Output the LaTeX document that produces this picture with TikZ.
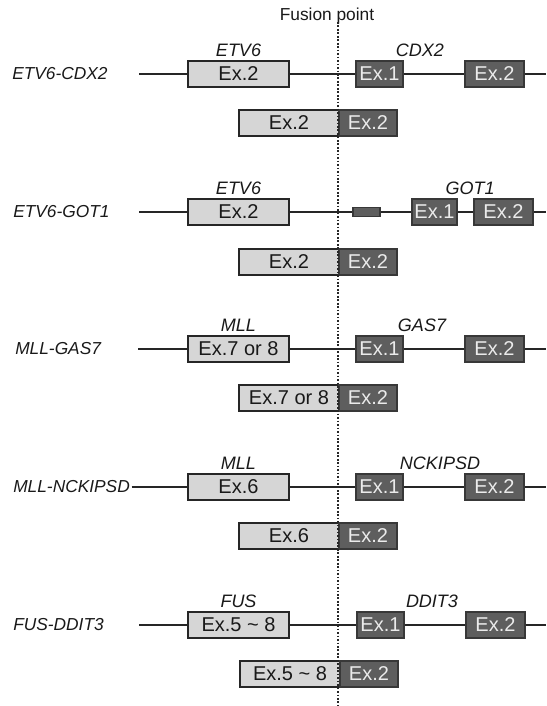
\documentclass[tikz,border=0pt]{standalone}
\usepackage{fontspec}
\setmainfont{Liberation Sans}
\begin{document}
\begin{tikzpicture}[x=0.75pt,y=-0.75pt,
  lbox/.style={draw=black!85, line width=1pt, fill=black!16, text=black!90,
    font=\fontsize{15}{15}\selectfont, inner sep=0pt, minimum height=19.5pt},
  dbox/.style={draw=black!78, line width=1pt, fill=black!63, text=black!8,
    font=\fontsize{15}{15}\selectfont, inner sep=0pt, minimum height=19.5pt},
  genelabel/.style={font=\itshape\fontsize{13.5}{13.5}\selectfont, text=black!90},
  rowlabel/.style={font=\itshape\fontsize{13}{13}\selectfont, text=black!90, anchor=west, inner sep=0pt},
  gline/.style={line width=1.1pt, black!85},
  fusionline/.style={line width=1.5pt, black!85, dash pattern=on 1.3pt off 1.3pt}]
\useasboundingbox (0,0) rectangle (546,706);

\node[font=\fontsize{13}{13}\selectfont, text=black!90] (fp) at (327,16) {Fusion point};

% ---------- Row 1: ETV6-CDX2 ----------
\node[rowlabel] (r1) at (12,74) {ETV6-CDX2};
\coordinate (s1) at (139,74);
\coordinate (e1) at (546,74);
\node[lbox, minimum width=75.75pt] (a1) at (238.5,74) {Ex.2};
\node[dbox, minimum width=35.25pt] (b1) at (379.5,74) {Ex.1};
\node[dbox, minimum width=44.25pt] (c1) at (494.5,74) {Ex.2};
\node[genelabel] (g1a) at (238.5,50) {ETV6};
\node[genelabel] (g1b) at (420,50) {CDX2};
\draw[gline] (s1) -- (a1.west);
\draw[gline] (a1.east) -- (b1.west);
\draw[gline] (b1.east) -- (c1.west);
\draw[gline] (c1.east) -- (e1);
\node[lbox, minimum width=75pt] (f1a) at (289,123) {Ex.2};
\node[dbox, minimum width=43.5pt] (f1b) at (368,123) {Ex.2};

% ---------- Row 2: ETV6-GOT1 ----------
\node[rowlabel] (r2) at (13,212) {ETV6-GOT1};
\coordinate (s2) at (139,212);
\coordinate (e2) at (546,212);
\node[lbox, minimum width=75.75pt] (a2) at (238.5,212) {Ex.2};
\node[dbox, minimum width=20.25pt, minimum height=7pt] (x2) at (366.5,212) {};
\node[dbox, minimum width=33.75pt] (b2) at (434.5,212) {Ex.1};
\node[dbox, minimum width=44.25pt] (c2) at (503.5,212) {Ex.2};
\node[genelabel] (g2a) at (238.5,188) {ETV6};
\node[genelabel] (g2b) at (470,188) {GOT1};
\draw[gline] (s2) -- (a2.west);
\draw[gline] (a2.east) -- (x2.west);
\draw[gline] (x2.east) -- (b2.west);
\draw[gline] (b2.east) -- (c2.west);
\draw[gline] (c2.east) -- (e2);
\node[lbox, minimum width=75pt] (f2a) at (289,262) {Ex.2};
\node[dbox, minimum width=43.5pt] (f2b) at (368,262) {Ex.2};

% ---------- Row 3: MLL-GAS7 ----------
\node[rowlabel] (r3) at (15,349) {MLL-GAS7};
\coordinate (s3) at (138,349);
\coordinate (e3) at (546,349);
\node[lbox, minimum width=75.75pt] (a3) at (238.5,349) {Ex.7 or 8};
\node[dbox, minimum width=35.25pt] (b3) at (379.5,349) {Ex.1};
\node[dbox, minimum width=44.25pt] (c3) at (494.5,349) {Ex.2};
\node[genelabel] (g3a) at (238.5,325) {MLL};
\node[genelabel] (g3b) at (422,325) {GAS7};
\draw[gline] (s3) -- (a3.west);
\draw[gline] (a3.east) -- (b3.west);
\draw[gline] (b3.east) -- (c3.west);
\draw[gline] (c3.east) -- (e3);
\node[lbox, minimum width=75pt] (f3a) at (289,398) {Ex.7 or 8};
\node[dbox, minimum width=43.5pt] (f3b) at (368,398) {Ex.2};

% ---------- Row 4: MLL-NCKIPSD ----------
\node[rowlabel] (r4) at (13,487) {MLL-NCKIPSD};
\coordinate (e4) at (546,487);
\node[lbox, minimum width=75.75pt] (a4) at (238.5,487) {Ex.6};
\node[dbox, minimum width=35.25pt] (b4) at (379.5,487) {Ex.1};
\node[dbox, minimum width=44.25pt] (c4) at (494.5,487) {Ex.2};
\node[genelabel] (g4a) at (238.5,463) {MLL};
\node[genelabel] (g4b) at (440,463) {NCKIPSD};
\draw[gline] (r4.east) ++(1.5,0) -- (a4.west);
\draw[gline] (a4.east) -- (b4.west);
\draw[gline] (b4.east) -- (c4.west);
\draw[gline] (c4.east) -- (e4);
\node[lbox, minimum width=75pt] (f4a) at (289,536) {Ex.6};
\node[dbox, minimum width=43.5pt] (f4b) at (368,536) {Ex.2};

% ---------- Row 5: FUS-DDIT3 ----------
\node[rowlabel] (r5) at (13,625) {FUS-DDIT3};
\coordinate (s5) at (139,625);
\coordinate (e5) at (546,625);
\node[lbox, minimum width=75.75pt] (a5) at (238.5,625) {Ex.5 \char`~\ 8};
\node[dbox, minimum width=35.25pt] (b5) at (380.5,625) {Ex.1};
\node[dbox, minimum width=44.25pt] (c5) at (495.5,625) {Ex.2};
\node[genelabel] (g5a) at (238.5,601) {FUS};
\node[genelabel] (g5b) at (432,601) {DDIT3};
\draw[gline] (s5) -- (a5.west);
\draw[gline] (a5.east) -- (b5.west);
\draw[gline] (b5.east) -- (c5.west);
\draw[gline] (c5.east) -- (e5);
\node[lbox, minimum width=75pt] (f5a) at (290,674) {Ex.5 \char`~\ 8};
\node[dbox, minimum width=43.5pt] (f5b) at (369,674) {Ex.2};

% ---------- Fusion line ----------
\coordinate (ftop) at (338,22);
\coordinate (fbot) at (338,706);
\draw[fusionline] (ftop) -- (fbot);
\end{tikzpicture}
\end{document}
